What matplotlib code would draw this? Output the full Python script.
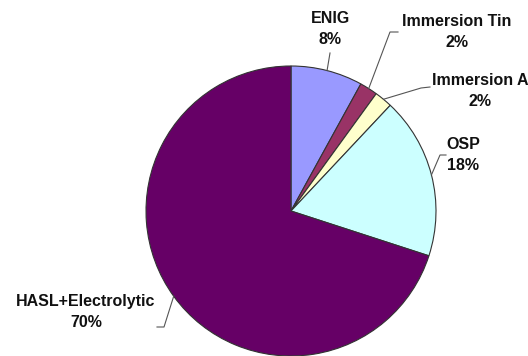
import numpy as np
import matplotlib.pyplot as plt

# data
labels = ["ENIG", "Immersion Tin", "Immersion A", "OSP", "HASL+Electrolytic"]
shares = [8, 2, 2, 18, 70]
colors = ["#9999FF", "#993366", "#FFFFCC", "#CCFFFF", "#660066"]

# label anchor (figure pixels, y from top) and elbow of leader line
W, H = 528, 356
label_pos = [(330, 29), (457, 32), (480, 91), (463, 155), (86, 312)]
leader_end = [(330, 53), (398, 32), (430, 87), (446, 155), (157, 327)]
leader_elbow = [(330, 53), (390, 32), (421, 88), (440, 155), (164, 327)]

fig = plt.figure(figsize=(W / 100, H / 100), dpi=100)
fig.patch.set_facecolor("white")

# pie axes: centre (291, 211), radius 145 px
cx, cy, r = 291, 211, 145
ax = fig.add_axes([(cx - r) / W, (H - cy - r) / H, 2 * r / W, 2 * r / H])
wedges, _ = ax.pie(shares, colors=colors, startangle=90, counterclock=False,
                   wedgeprops=dict(edgecolor="#333333", linewidth=0.8))
ax.set_xlim(-1, 1)
ax.set_ylim(-1, 1)
ax.axis("off")

# overlay axes in pixel coordinates for labels and leader lines
ov = fig.add_axes([0, 0, 1, 1])
ov.set_xlim(0, W)
ov.set_ylim(H, 0)
ov.axis("off")
ov.patch.set_alpha(0)

for w, lab, val, (lx, ly), (ex, ey), (bx, by) in zip(
        wedges, labels, shares, label_pos, leader_end, leader_elbow):
    mid = np.deg2rad((w.theta1 + w.theta2) / 2)
    px = cx + r * np.cos(mid)
    py = cy - r * np.sin(mid)
    ov.plot([px, bx, ex], [py, by, ey], color="#555555", lw=0.8)
    ov.text(lx, ly, f"{lab}\n{val}%", ha="center", va="center",
            fontsize=11.5, fontweight="bold", family="Liberation Sans",
            linespacing=1.5, color="#111111")

fig.savefig("out.png", dpi=100)
